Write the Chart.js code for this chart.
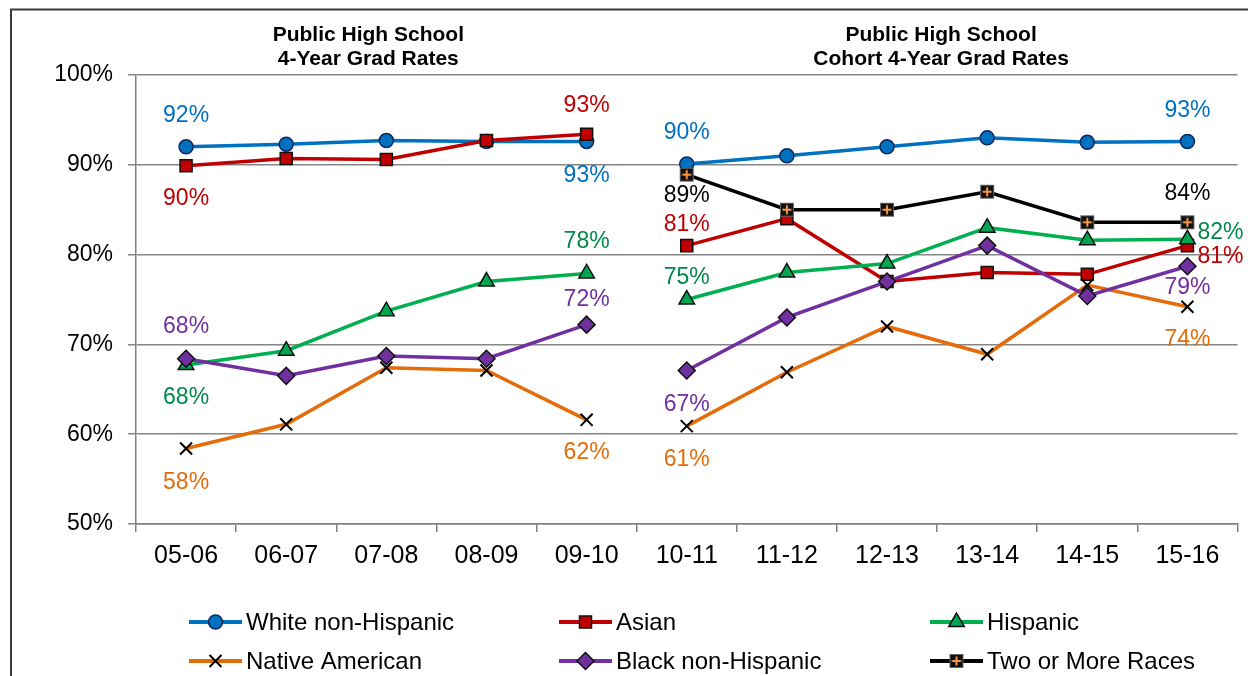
<!DOCTYPE html>
<html lang="en">
<head>
<meta charset="UTF-8">
<title>Public High School Grad Rates</title>
<script src="https://cdn.jsdelivr.net/npm/chart.js"></script>
<style>
  body { margin: 0; background: #fff; }
  #wrap { width: 1248px; height: 676px; position: relative; }
</style>
</head>
<body>
<div id="wrap"><canvas id="gradChart"></canvas></div>
<script>
// school years; 05-06..09-10 are plain 4-year rates, 10-11 on are cohort rates
const years = ['05-06', '06-07', '07-08', '08-09', '09-10', '10-11', '11-12', '12-13', '13-14', '14-15', '15-16'];

const whiteRates    = [92.0, 92.3, 92.7, 92.6, 92.6, 90.1, 91.0, 92.0, 93.0, 92.5, 92.6];
const asianRates    = [89.9, 90.7, 90.6, 92.7, 93.4, 81.0, 84.0, 77.0, 78.0, 77.8, 81.0];
const hispanicRates = [67.7, 69.3, 73.7, 77.0, 77.9, 75.0, 78.0, 79.0, 83.0, 81.6, 81.7];
const nativeRates   = [58.4, 61.1, 67.4, 67.1, 61.6, 60.9, 66.9, 72.0, 68.9, 76.6, 74.2];
const blackRates    = [68.4, 66.5, 68.7, 68.4, 72.2, 67.1, 73.0, 77.0, 81.0, 75.4, 78.7];
const multiRates    = [null, null, null, null, null, 88.9, 85.0, 85.0, 87.0, 83.6, 83.6];

const yTicks = [50, 60, 70, 80, 90, 100];

// black square with an orange plus, for "Two or More Races"
const plusMark = document.createElement('canvas');
plusMark.width = 18; plusMark.height = 18;
(function () {
  const m = plusMark.getContext('2d');
  m.fillStyle = '#111';
  m.fillRect(2, 2, 14, 14);
  m.strokeStyle = '#666';
  m.lineWidth = 1;
  m.strokeRect(2.5, 2.5, 13, 13);
  m.strokeStyle = '#F79646';
  m.lineWidth = 2;
  m.beginPath();
  m.moveTo(9, 4.5); m.lineTo(9, 13.5);
  m.moveTo(4.5, 9); m.lineTo(13.5, 9);
  m.stroke();
})();

// where each value label sits relative to its point
const labelSpots = {
  'White non-Hispanic': [[0, 0, -31], [4, 0, 34], [5, 0, -31], [10, 0, -31]],
  'Asian':              [[0, 0, 33], [4, 0, -29], [5, 0, -21], [10, 33, 11]],
  'Hispanic':           [[0, 0, 33], [4, 0, -32], [5, 0, -22], [10, 33, -7]],
  'Native American':    [[0, 0, 34], [4, 0, 33], [5, 0, 34], [10, 0, 33]],
  'Black non-Hispanic': [[0, 0, -32], [4, 0, -25], [5, 0, 34], [10, 0, 21]],
  'Two or More Races':  [[5, 0, 21], [10, 0, -29]]
};

Chart.defaults.font.family = "'Liberation Sans', Arial, sans-serif";
Chart.defaults.color = '#000';

// no line across the break between 09-10 and 10-11
const breakSeg = { borderColor: ctx => ctx.p0DataIndex === 4 ? 'rgba(0,0,0,0)' : undefined };

function series(label, data, color, labelColor, point) {
  return Object.assign({
    label: label,
    data: data,
    borderColor: color,
    borderWidth: 3.5,
    tension: 0,
    spanGaps: false,
    segment: breakSeg,
    pointBorderWidth: 1.5,
    pointHoverRadius: 8,
    labelColor: labelColor
  }, point);
}

const datasets = [
  series('White non-Hispanic', whiteRates, '#0070C0', '#0070C0',
    { pointStyle: 'circle', pointRadius: 7, pointBackgroundColor: '#0070C0', pointBorderColor: '#10285A', order: 6 }),
  series('Asian', asianRates, '#C00000', '#C00000',
    { pointStyle: 'rect', pointRadius: 8.5, pointBackgroundColor: '#C00000', pointBorderColor: '#111', order: 5 }),
  series('Hispanic', hispanicRates, '#00B050', '#00894A',
    { pointStyle: 'triangle', pointRadius: 9, pointBackgroundColor: '#00A650', pointBorderColor: '#111', order: 4 }),
  series('Native American', nativeRates, '#E46C0A', '#E46C0A',
    { pointStyle: 'crossRot', pointRadius: 8.5, pointBorderColor: '#000', pointBorderWidth: 2, order: 3 }),
  series('Black non-Hispanic', blackRates, '#7030A0', '#7030A0',
    { pointStyle: 'rectRot', pointRadius: 8.5, pointBackgroundColor: '#7030A0', pointBorderColor: '#111', order: 2 }),
  series('Two or More Races', multiRates, '#000000', '#000000',
    { pointStyle: plusMark, pointRadius: 8, order: 1 })
];

const decorPlugin = {
  id: 'decor',
  beforeDraw(chart) {
    const ctx = chart.ctx;
    ctx.save();
    ctx.strokeStyle = '#3a3a3a';
    ctx.lineWidth = 2;
    ctx.strokeRect(11, 9.5, 1400, 800);
    ctx.restore();
  },
  afterDatasetsDraw(chart) {
    const ctx = chart.ctx;
    ctx.save();
    ctx.font = "23px 'Liberation Sans', Arial, sans-serif";
    ctx.textAlign = 'center';
    ctx.textBaseline = 'middle';
    chart.data.datasets.forEach((ds, di) => {
      const meta = chart.getDatasetMeta(di);
      (labelSpots[ds.label] || []).forEach(([i, dx, dy]) => {
        const pt = meta.data[i];
        ctx.fillStyle = ds.labelColor;
        ctx.fillText(Math.round(ds.data[i]) + '%', pt.x + dx, pt.y + dy);
      });
    });
    ctx.restore();
  },
  afterDraw(chart) {
    const ctx = chart.ctx;
    const xs = chart.scales.x;
    ctx.save();
    // panel headings
    ctx.font = "bold 21px 'Liberation Sans', Arial, sans-serif";
    ctx.fillStyle = '#000';
    ctx.textAlign = 'center';
    ctx.textBaseline = 'alphabetic';
    const left = xs.getPixelForValue(1.82);
    const right = xs.getPixelForValue(7.54);
    ctx.fillText('Public High School', left, 41);
    ctx.fillText('4-Year Grad Rates', left, 65);
    ctx.fillText('Public High School', right, 41);
    ctx.fillText('Cohort 4-Year Grad Rates', right, 65);

    // legend: three columns, two rows, line sample with marker
    const cols = [189, 559, 930];
    const rows = [622, 661];
    ctx.font = "24px 'Liberation Sans', Arial, sans-serif";
    ctx.textAlign = 'left';
    ctx.textBaseline = 'middle';
    chart.data.datasets.forEach((ds, i) => {
      const x = cols[i % 3];
      const y = rows[Math.floor(i / 3)];
      ctx.strokeStyle = ds.borderColor;
      ctx.lineWidth = 4;
      ctx.beginPath();
      ctx.moveTo(x, y);
      ctx.lineTo(x + 53, y);
      ctx.stroke();
      ctx.fillStyle = ds.pointBackgroundColor || 'rgba(0,0,0,0)';
      ctx.strokeStyle = ds.pointBorderColor || '#000';
      ctx.lineWidth = ds.pointBorderWidth;
      Chart.helpers.drawPoint(ctx, {
        pointStyle: ds.pointStyle,
        radius: ds.pointRadius,
        rotation: 0,
        borderWidth: ds.pointBorderWidth
      }, x + 26.5, y);
      ctx.fillStyle = '#000';
      ctx.fillText(ds.label, x + 57, y + 1);
    });
    ctx.restore();
  }
};

new Chart(document.getElementById('gradChart'), {
  type: 'line',
  data: { labels: years, datasets: datasets },
  plugins: [decorPlugin],
  options: {
    responsive: true,
    maintainAspectRatio: false,
    animation: false,
    layout: { padding: { top: 75, right: 6, left: 0, bottom: 0 } },
    plugins: {
      legend: { display: false },
      tooltip: {
        callbacks: { label: c => c.dataset.label + ': ' + Math.round(c.parsed.y) + '%' }
      }
    },
    scales: {
      x: {
        offset: true,
        afterFit: s => { s.height = 152; },
        grid: { drawOnChartArea: false, offset: true, tickLength: 8, color: '#808080', lineWidth: 1.5 },
        border: { color: '#808080', width: 1.5 },
        ticks: { font: { size: 25 }, padding: 9, maxRotation: 0 }
      },
      y: {
        min: 50,
        max: 100,
        afterFit: s => { s.width = 136; },
        afterBuildTicks: s => { s.ticks = yTicks.map(v => ({ value: v })); },
        grid: { color: '#868686', lineWidth: 1.5, tickLength: 8 },
        border: { color: '#808080', width: 1.5 },
        ticks: { font: { size: 23 }, padding: 15, callback: v => v + '%' }
      }
    }
  }
});
</script>
</body>
</html>
